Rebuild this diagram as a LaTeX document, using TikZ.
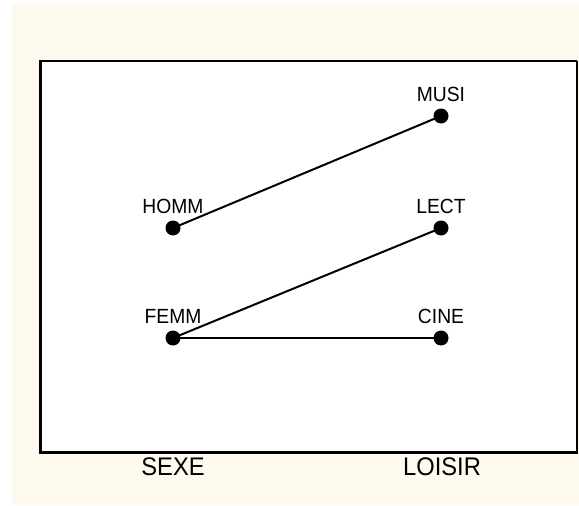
\documentclass[tikz,border=0pt]{standalone}
\usepackage{fontspec}
\setmainfont{Liberation Sans}
\newfontfamily\labfont[FakeStretch=0.94]{Liberation Sans}
\newfontfamily\axfont[FakeStretch=0.93]{Liberation Sans}
\usetikzlibrary{calc}
\definecolor{cream}{HTML}{FFFAF0}
\tikzset{
  dot/.style={circle,fill=black,inner sep=0pt,minimum size=15pt},
  lbl/.style={anchor=base,inner sep=0pt,font=\labfont\fontsize{20.5}{20}\selectfont},
  axl/.style={anchor=base,inner sep=0pt,font=\axfont\fontsize{25.5}{25}\selectfont},
  link/.style={line width=2pt},
}
\begin{document}
\begin{tikzpicture}[x=1pt,y=-1pt]
\useasboundingbox (0,0) rectangle (579,506);
\fill[cream] (12,4) rectangle (579,505);
\fill[white] (40,61) rectangle (577,451);
\draw[line width=2pt] (40,61) -- (577,61);
\draw[line width=1.5pt] (577,61) -- (577,451);
\draw[line width=3pt] (40,60) -- (40,452.5) -- (577.75,452.5);
\node[dot] (homm) at (173,228) {};
\node[dot] (femm) at (173,338) {};
\node[dot] (musi) at (441,116) {};
\node[dot] (lect) at (441,228) {};
\node[dot] (cine) at (441,338) {};
\draw[link] (homm.center) -- (musi.center);
\draw[link] (femm.center) -- (lect.center);
\draw[link] (femm.center) -- (cine.center);
\node[lbl] (lh) at ($(homm)+(0,-15)$) {HOMM};
\node[lbl] (lf) at ($(femm)+(0,-15)$) {FEMM};
\node[lbl] (lm) at ($(musi)+(0,-15)$) {MUSI};
\node[lbl] (ll) at ($(lect)+(0,-15)$) {LECT};
\node[lbl] (lc) at ($(cine)+(0,-15)$) {CINE};
\node[axl] (sexe) at (173,475) {SEXE};
\node[axl] (loisir) at (442,475) {LOISIR};
\end{tikzpicture}
\end{document}
